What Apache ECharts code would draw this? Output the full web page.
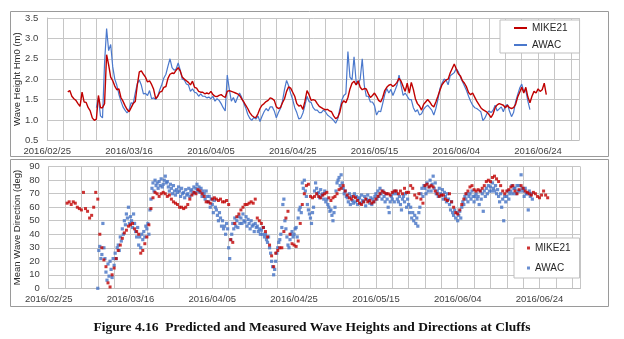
<!DOCTYPE html>
<html><head><meta charset="utf-8">
<script src="https://cdn.jsdelivr.net/npm/echarts@6/dist/echarts.min.js"></script>
<style>html,body{margin:0;padding:0;background:#fff}#c{width:624px;height:339px}</style>
</head><body><div id="c"></div>
<script>
// x axis: days since 2016/02/25
const dateLabels = ['2016/02/25','2016/03/16','2016/04/05','2016/04/25','2016/05/15','2016/06/04','2016/06/24'];
const labelStepDays = 20;

// Wave height Hm0 (m), MIKE21, from day 5, every 0.5 day
const mikeHsStart = 5, mikeHsStep = 0.5;
const mikeHs = [
1.69,1.72,1.58,1.52,1.48,1.40,1.33,1.68,1.44,1.43,
1.30,1.22,1.05,0.99,1.02,1.60,1.30,1.30,1.40,2.60,
2.35,2.05,1.96,1.83,1.74,1.76,1.55,1.46,1.35,1.26,
1.20,1.30,1.40,1.45,1.85,2.18,2.20,2.12,2.05,1.93,
1.96,1.87,1.75,1.52,1.58,1.68,1.70,1.80,1.82,2.02,
2.12,2.15,2.14,2.22,2.28,2.20,2.05,2.00,1.96,1.92,
1.86,1.95,1.80,1.78,1.70,1.68,1.68,1.64,1.66,1.64,
1.70,1.62,1.58,1.57,1.60,1.62,1.58,1.55,1.70,1.72,
1.70,1.68,1.66,1.64,1.60,1.52,1.45,1.36,1.28,1.18,
1.11,1.07,1.06,1.15,1.28,1.36,1.40,1.45,1.48,1.54,
1.52,1.48,1.32,1.28,1.30,1.42,1.52,1.70,1.81,1.78,
1.68,1.58,1.40,1.34,1.36,1.26,1.46,1.72,1.62,1.48,
1.50,1.48,1.40,1.33,1.30,1.27,1.25,1.26,1.22,1.20,
1.10,1.03,1.06,1.18,1.40,1.47,1.42,1.55,1.76,1.90,
1.95,1.86,1.96,1.80,1.74,1.77,1.76,1.64,1.55,1.60,
1.66,1.58,1.48,1.44,1.55,1.72,1.80,1.85,1.87,1.82,
1.86,1.92,2.02,1.95,1.82,1.70,1.90,1.66,1.92,1.75,
1.52,1.40,1.34,1.24,1.38,1.44,1.50,1.44,1.36,1.32,
1.44,1.58,1.73,1.86,1.93,1.98,2.00,2.15,2.26,2.37,
2.25,2.13,2.08,1.96,1.90,1.81,1.67,1.62,1.66,1.56,
1.46,1.38,1.30,1.25,1.22,1.19,1.13,1.06,1.15,1.30,
1.37,1.40,1.38,1.36,1.30,1.36,1.30,1.28,1.30,1.38,
1.56,1.68,1.80,1.66,1.80,1.56,1.42,1.58,1.70,1.66,
1.76,1.70,1.74,1.90,1.62];

// Wave height Hm0 (m), AWAC, from day 12, every 0.5 day
const awacHsStart = 12, awacHsStep = 0.5;
const awacHs = [
1.30,1.55,1.10,1.05,2.40,3.24,2.70,2.85,2.30,2.00,
1.85,1.63,1.46,1.32,1.24,1.17,1.25,1.42,1.40,1.66,
1.89,1.98,1.85,1.64,1.65,1.60,1.72,1.52,1.54,1.50,
1.58,1.74,1.87,2.03,2.12,2.32,2.50,2.28,2.22,2.25,
2.40,2.22,2.00,1.98,1.88,1.86,1.70,1.76,1.68,1.66,
1.58,1.64,1.58,1.58,1.54,1.56,1.52,1.58,1.46,1.52,
1.48,1.40,1.30,1.22,2.10,1.75,1.46,1.55,1.42,1.55,
1.66,1.56,1.42,1.30,1.14,1.04,0.99,1.06,1.02,1.10,
0.96,1.09,1.20,1.28,1.22,1.32,1.32,1.22,1.05,1.18,
1.28,1.46,1.75,1.97,1.84,1.65,1.50,1.30,1.18,1.02,
1.05,1.17,1.36,1.58,1.45,1.43,1.30,1.24,1.24,1.18,
1.18,1.24,1.20,1.12,1.08,1.04,0.99,0.92,1.02,1.26,
1.48,1.60,1.64,2.68,2.05,1.98,2.55,1.95,1.88,2.00,
2.50,1.85,1.58,1.58,1.44,1.44,1.35,1.12,1.22,1.20,
1.40,1.62,1.77,1.66,1.75,1.60,1.72,1.85,2.10,1.85,
1.60,1.66,1.58,1.50,1.50,1.30,1.20,1.25,1.12,1.15,
1.26,1.32,1.36,1.30,1.24,1.12,1.28,1.50,1.77,1.90,
2.00,1.98,1.86,2.08,2.12,2.16,2.26,2.18,2.05,1.94,
1.83,1.72,1.58,1.46,1.36,1.30,1.28,1.24,1.20,0.98,
1.05,1.16,1.22,1.18,1.24,1.36,1.22,1.27,1.32,1.20,
1.34,1.38,1.22,1.08,1.18,1.45,1.62,1.78,1.88,1.70,
1.72,1.46,1.25];

// Mean wave direction (deg), MIKE21, from day 4.5, every 0.5 day
const mikeDirStart = 4.5, mikeDirStep = 0.5;
const mikeDir = [
63,64,62,64,63,60,59,58,71,59,
57,52,54,60,71,66,40,30,21,16,
4,1,10,15,22,28,32,37,41,43,
46,47,48,44,42,40,26,28,33,38,
47,59,67,71,70,68,70,71,70,68,
69,66,64,63,62,60,60,59,60,62,
66,69,71,70,73,72,70,68,64,64,
63,66,67,66,65,66,64,64,65,62,
36,34,48,53,55,58,60,62,62,63,
64,63,66,52,50,48,45,42,38,32,
24,16,26,28,30,30,42,52,57,40,
33,32,31,35,48,62,70,76,77,68,
67,68,70,68,67,69,70,71,67,65,
67,68,70,73,74,76,72,69,67,66,
68,67,65,63,62,64,66,64,65,63,
64,66,68,70,72,71,70,70,69,71,
72,72,70,72,70,74,71,71,76,74,
69,67,70,66,63,76,77,75,76,75,
72,70,68,69,69,66,65,70,64,60,
56,55,58,62,66,70,72,75,76,73,
72,73,72,74,76,79,80,79,82,83,
81,79,76,72,70,72,73,75,76,72,
70,73,76,74,72,71,70,69,71,70,
68,67,69,72,69,67];

// Mean wave direction (deg), AWAC, from day 12, every 0.25 day
const awacDirStart = 12, awacDirStep = 0.25;
const awacDir = [
0,28,31,22, 25,48,30,22, 12,6,18,9, 20,14,8,22, 17,26,22,30,
32,28,38,35, 44,40,50,47, 55,52,60,48, 53,50,45,55, 48,42,38,45,
32,38,30,40, 36,42,38,46, 44,48,40,58, 66,74,78,72, 80,76,78,74,
79,76,81,75, 77,80,83,78, 79,75,72,77, 74,70,76,72, 69,73,71,75,
72,68,74,70, 71,67,73,69, 70,74,68,72, 73,70,75,71, 74,77,72,75,
71,74,68,72, 70,66,72,68, 64,68,60,66, 62,56,65,60, 58,54,50,56,
52,46,50,44, 46,40,48,44, 30,22,36,40, 48,44,52,46, 50,45,53,48,
52,48,55,50, 49,53,46,51, 48,44,50,46, 47,42,48,45, 46,42,44,40,
43,40,45,38, 40,36,34,38, 30,26,20,16, 10,14,20,26, 30,34,36,40,
45,62,66,50, 44,38,32,30, 36,40,42,38, 40,44,45,38, 52,58,60,56,
78,74,80,72, 68,62,58,55, 52,48,56,60, 72,78,74,70, 71,67,73,69,
70,66,72,64, 66,62,60,57, 58,54,50,56, 60,72,78,80, 82,76,84,78,
74,70,72,68, 67,64,70,62, 68,65,63,70, 64,68,62,66, 67,63,69,65,
64,68,61,66, 69,65,63,67, 62,66,64,68, 70,66,72,68, 74,70,66,72,
68,64,70,66, 60,56,64,68, 66,70,64,72, 70,66,64,68, 62,58,66,68,
64,70,60,66, 62,56,60,52, 56,50,54,48, 52,46,56,60, 70,74,68,76,
74,70,78,72, 75,80,72,77, 83,74,78,70, 72,68,74,70, 69,73,66,71,
68,64,70,66, 62,58,64,56, 54,58,52,56, 50,54,57,52, 60,64,62,68,
66,70,64,68, 70,66,72,68, 64,68,70,66, 68,62,72,66, 70,57,72,68,
74,70,76,72, 75,72,78,74, 72,76,70,73, 68,64,70,60, 66,50,68,64,
68,72,66,70, 72,76,70,74, 74,70,76,72, 76,72,84,74, 72,68,74,70,
70,58,72,68, 70,66];

function toPairs(start, step, vals) { return vals.map((v, i) => [start + i * step, v]); }

const FONT = 'Liberation Sans';
const dayFormatter = v => (v % labelStepDays === 0 && v / labelStepDays < dateLabels.length) ? dateLabels[v / labelStepDays] : '';

function xAxisFor(gridIndex) {
  return {
    type: 'value', gridIndex, min: 0, max: 130, interval: 4,
    axisLine: { show: true, lineStyle: { color: '#bfbfbf' } },
    axisTick: { show: false },
    splitLine: { show: true, lineStyle: { color: '#c6c6c6', width: 1 } },
    axisLabel: { formatter: dayFormatter, fontSize: 9.5, color: '#404040', margin: 6, fontFamily: FONT }
  };
}

const chart = echarts.init(document.getElementById('c'), null, { renderer: 'canvas' });
chart.setOption({
  animation: false,
  backgroundColor: '#fff',
  title: {
    text: 'Figure 4.16  Predicted and Measured Wave Heights and Directions at Cluffs',
    left: 'center', top: 316,
    textStyle: { fontFamily: 'Liberation Serif', fontWeight: 'bold', fontSize: 13.5, color: '#111' }
  },
  graphic: [
    { type: 'rect', z: -10, shape: { x: 10.5, y: 11.5, width: 598, height: 145 }, style: { fill: 'none', stroke: '#9a9a9a', lineWidth: 1 } },
    { type: 'rect', z: -10, shape: { x: 10.5, y: 159.5, width: 598, height: 147 }, style: { fill: 'none', stroke: '#9a9a9a', lineWidth: 1 } }
  ],
  grid: [
    { left: 47.3, top: 18, width: 531.7, height: 122.3, outerBoundsMode: 'none', containLabel: false },
    { left: 48.7, top: 166.7, width: 531.7, height: 121.6, outerBoundsMode: 'none', containLabel: false }
  ],
  xAxis: [xAxisFor(0), xAxisFor(1)],
  yAxis: [
    { type: 'value', gridIndex: 0, min: 0.5, max: 3.5, interval: 0.5,
      axisLine: { show: true, lineStyle: { color: '#bfbfbf' } }, axisTick: { show: false },
      splitLine: { lineStyle: { color: '#c6c6c6' } },
      axisLabel: { formatter: v => v.toFixed(1), fontSize: 9.5, color: '#404040', margin: 9, fontFamily: FONT },
      name: 'Wave Height Hm0 (m)', nameLocation: 'middle', nameGap: 25, nameMoveOverlap: false,
      nameTextStyle: { fontSize: 9.5, color: '#262626', fontFamily: FONT } },
    { type: 'value', gridIndex: 1, min: 0, max: 90, interval: 10,
      axisLine: { show: true, lineStyle: { color: '#bfbfbf' } }, axisTick: { show: false },
      splitLine: { lineStyle: { color: '#c6c6c6' } },
      axisLabel: { fontSize: 9.5, color: '#404040', margin: 9, fontFamily: FONT },
      name: 'Mean Wave Direction (deg)', nameLocation: 'middle', nameGap: 26, nameMoveOverlap: false,
      nameTextStyle: { fontSize: 9.5, color: '#262626', fontFamily: FONT } }
  ],
  legend: [
    { data: [{ name: 'MIKE21', icon: 'rect' }, { name: 'AWAC', icon: 'rect' }],
      orient: 'vertical', left: 500, top: 20, itemWidth: 13, itemHeight: 2, itemGap: 7,
      padding: [3, 12, 3, 14], backgroundColor: '#fff', borderColor: '#bfbfbf', borderWidth: 1,
      selectedMode: false, textStyle: { fontSize: 10, color: '#262626', fontFamily: FONT } },
    { data: [{ name: 'MIKE21 dir', icon: 'rect' }, { name: 'AWAC dir', icon: 'rect' }],
      formatter: n => n.replace(' dir', ''),
      orient: 'vertical', left: 514, top: 238, itemWidth: 3, itemHeight: 3, itemGap: 10,
      padding: [5, 9, 5, 13], backgroundColor: '#fff', borderColor: '#bfbfbf', borderWidth: 1,
      selectedMode: false, textStyle: { fontSize: 10, color: '#262626', fontFamily: FONT } }
  ],
  series: [
    { name: 'AWAC', type: 'line', xAxisIndex: 0, yAxisIndex: 0, showSymbol: false, symbol: 'none',
      itemStyle: { color: '#4a78cc' }, lineStyle: { color: '#4a78cc', width: 1.2 }, z: 2,
      data: toPairs(awacHsStart, awacHsStep, awacHs) },
    { name: 'MIKE21', type: 'line', xAxisIndex: 0, yAxisIndex: 0, showSymbol: false, symbol: 'none',
      itemStyle: { color: '#c00000' }, lineStyle: { color: '#c00000', width: 1.4 }, z: 3,
      data: toPairs(mikeHsStart, mikeHsStep, mikeHs) },
    { name: 'AWAC dir', type: 'scatter', xAxisIndex: 1, yAxisIndex: 1, symbol: 'rect', symbolSize: 3.2,
      itemStyle: { color: '#4472c4' }, z: 2,
      data: toPairs(awacDirStart, awacDirStep, awacDir) },
    { name: 'MIKE21 dir', type: 'scatter', xAxisIndex: 1, yAxisIndex: 1, symbol: 'rect', symbolSize: 3,
      itemStyle: { color: '#c00000' }, z: 3,
      data: toPairs(mikeDirStart, mikeDirStep, mikeDir) }
  ]
});
</script></body></html>
